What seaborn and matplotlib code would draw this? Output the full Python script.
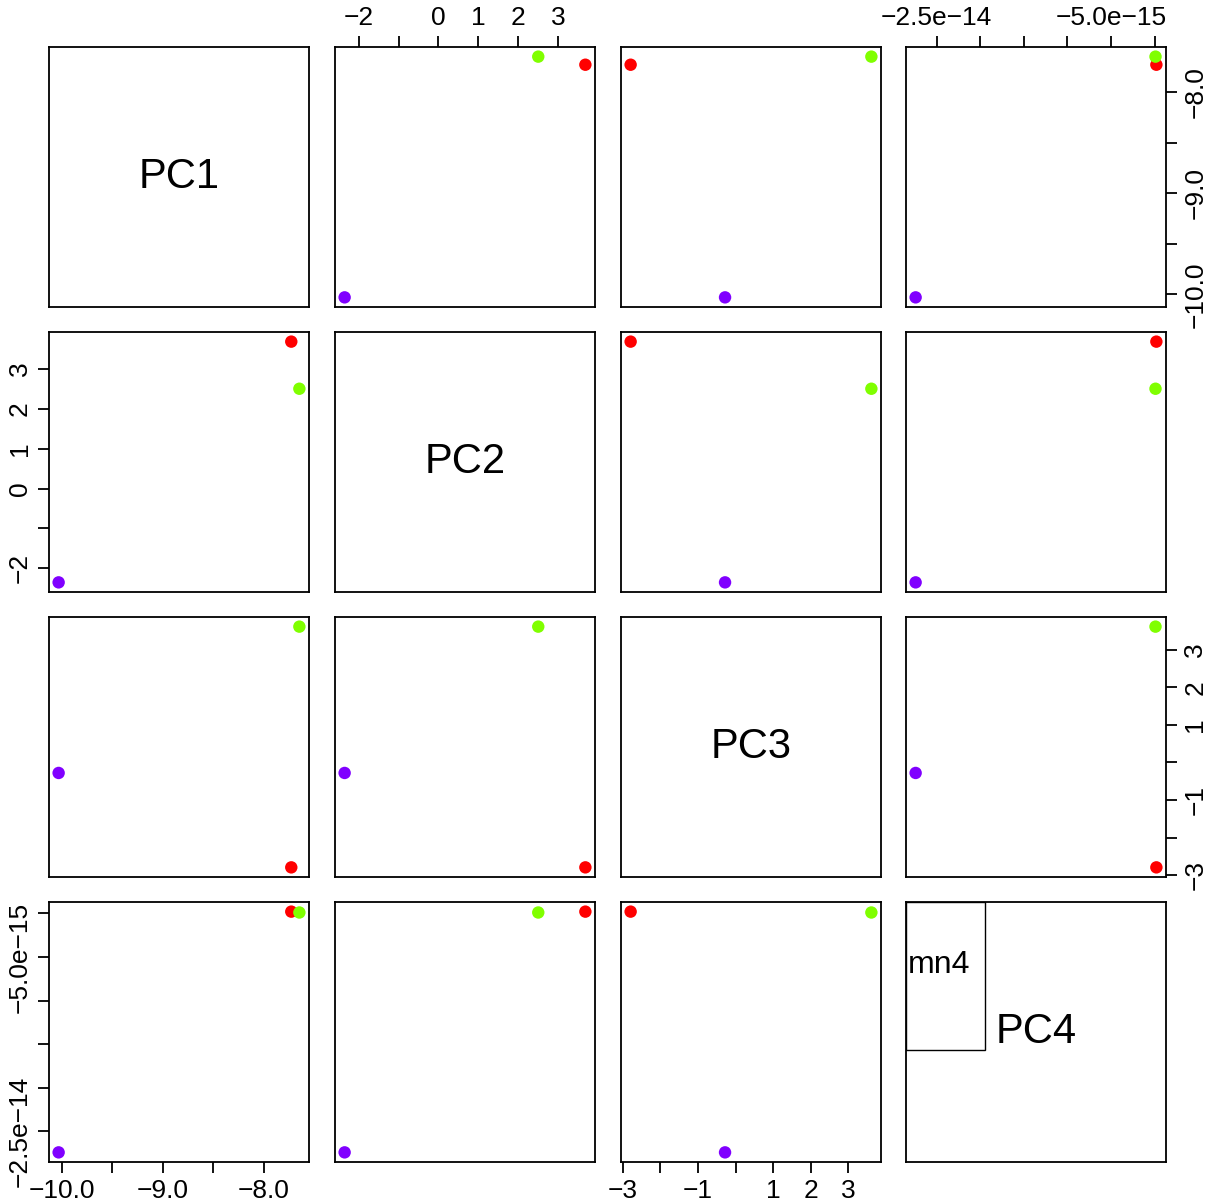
import matplotlib
matplotlib.use("Agg")
import matplotlib.pyplot as plt
import numpy as np
import pandas as pd
import seaborn as sns
from matplotlib.patches import Rectangle

# data (three samples, R rainbow(4) colours)
groups = ["g1", "g2", "g3"]
colors = ["#FF0000", "#80FF00", "#8000FF"]
pc1 = [-7.73, -7.65, -10.03]
pc2 = [3.68, 2.50, -2.35]
pc3 = [-2.79, 3.61, -0.28]
pc4 = [2.0e-16, 1.0e-16, -2.74e-14]
var_names = ["PC1", "PC2", "PC3", "PC4"]

ticks = {
    "PC1": [-10.0, -9.5, -9.0, -8.5, -8.0],
    "PC2": [-2, -1, 0, 1, 2, 3],
    "PC3": [-3, -2, -1, 0, 1, 2, 3],
    "PC4": [-2.5e-14, -2.0e-14, -1.5e-14, -1.0e-14, -5.0e-15, 0.0],
}
tick_labels = {
    "PC1": ["\u221210.0", "", "\u22129.0", "", "\u22128.0"],
    "PC2": ["\u22122", "", "0", "1", "2", "3"],
    "PC3": ["\u22123", "", "\u22121", "", "1", "2", "3"],
    "PC4": ["\u22122.5e\u221214", "", "", "", "\u22125.0e\u221215", ""],
}

df = pd.DataFrame({"group": groups, "PC1": pc1, "PC2": pc2, "PC3": pc3, "PC4": pc4})

sns.set_style("white")
plt.rcParams["font.family"] = ["Liberation Sans", "DejaVu Sans"]
plt.rcParams["text.color"] = "black"

W, H = 1208, 1201
fig = plt.figure(figsize=(W / 100, H / 100), dpi=100)

lefts = [49, 335, 621, 906]
tops = [47, 332, 617, 902]
size = 260


def lims(v):
    lo, hi = min(v), max(v)
    r = hi - lo
    return lo - 0.04 * r, hi + 0.04 * r


tick_fs = 19
for i, yv in enumerate(var_names):
    for j, xv in enumerate(var_names):
        ax = fig.add_axes([lefts[j] / W, 1 - (tops[i] + size) / H, size / W, size / H])
        for sp in ax.spines.values():
            sp.set_linewidth(1.3)
            sp.set_color("black")
        ax.set_xlim(lims(df[xv]))
        ax.set_ylim(lims(df[yv]))
        ax.tick_params(axis="both", which="both", bottom=False, top=False, left=False, right=False,
                       labelbottom=False, labeltop=False, labelleft=False, labelright=False,
                       length=8, width=1.3, pad=4.5, labelsize=tick_fs, colors="black")
        ax.set_xticks(ticks[xv])
        ax.set_xticklabels(tick_labels[xv])
        ax.set_yticks(ticks[yv])
        ax.set_yticklabels(tick_labels[yv], rotation=90, va="center")

        if i == j:
            ax.text(0.5, 0.5, xv, transform=ax.transAxes, ha="center", va="center",
                    fontsize=30, color="black")
            if xv == "PC4":
                ax.add_patch(Rectangle((0, 0.431), 0.304, 0.569, transform=ax.transAxes,
                                       fill=False, edgecolor="black", linewidth=1.0))
                ax.text(0.006, 0.758, "mn4", transform=ax.transAxes, ha="left", va="center",
                        fontsize=23, color="black")
            continue

        sns.scatterplot(data=df, x=xv, y=yv, hue="group", palette=colors, s=80,
                        linewidth=0, legend=False, ax=ax, zorder=3, clip_on=False)
        ax.set_xlabel("")
        ax.set_ylabel("")

        if i == 0 and j % 2 == 1:
            ax.tick_params(axis="x", top=True, labeltop=True)
        if i == 3 and j % 2 == 0:
            ax.tick_params(axis="x", bottom=True, labelbottom=True)
        if j == 0 and i % 2 == 1:
            ax.tick_params(axis="y", left=True, labelleft=True)
        if j == 3 and i % 2 == 0:
            ax.tick_params(axis="y", right=True, labelright=True)

fig.savefig("out.png", dpi=100, facecolor="white")
